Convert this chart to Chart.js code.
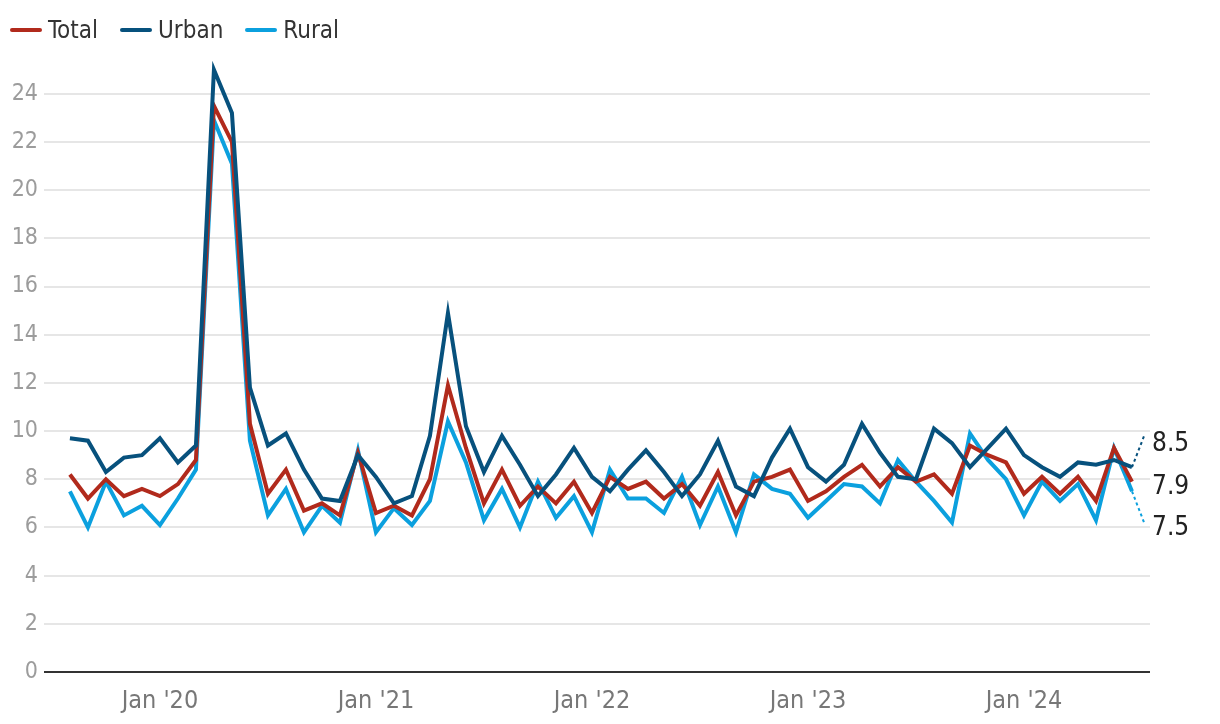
<!DOCTYPE html>
<html>
<head>
<meta charset="utf-8">
<script src="https://cdn.jsdelivr.net/npm/chart.js@4/dist/chart.umd.min.js"></script>
<style>
  html, body { margin: 0; padding: 0; background: #fff; }
  #wrap { position: relative; width: 1220px; height: 724px; }
  #legend {
    position: absolute; left: 10px; top: 14px; height: 32px;
    display: flex; align-items: center;
    font: 24px 'DejaVu Sans Condensed', 'Liberation Sans Narrow', sans-serif;
    color: #333;
  }
  #legend .item { display: flex; align-items: center; margin-right: 22px; }
  #legend .swatch { width: 32px; height: 4px; border-radius: 2px; margin-right: 6px; }
</style>
</head>
<body>
<div id="wrap">
  <canvas id="chart" width="1220" height="724"></canvas>
  <div id="legend"></div>
</div>
<script>
// monthly values, Aug 2019 .. Jul 2024
const total = [
  8.2, 7.2, 8.0, 7.3, 7.6, 7.3, 7.8, 8.8, 23.5, 22.0,
  10.3, 7.4, 8.4, 6.7, 7.0, 6.5, 9.1, 6.6, 6.9, 6.5,
  8.0, 11.9, 9.3, 7.0, 8.4, 6.9, 7.7, 7.0, 7.9, 6.6,
  8.1, 7.6, 7.9, 7.2, 7.8, 6.9, 8.3, 6.5, 7.9, 8.1,
  8.4, 7.1, 7.5, 8.1, 8.6, 7.7, 8.5, 7.9, 8.2, 7.4,
  9.4, 9.0, 8.7, 7.4, 8.1, 7.4, 8.1, 7.1, 9.3, 7.9,
];
const urban = [
  9.7, 9.6, 8.3, 8.9, 9.0, 9.7, 8.7, 9.4, 25.0, 23.2,
  11.8, 9.4, 9.9, 8.4, 7.2, 7.1, 9.0, 8.1, 7.0, 7.3,
  9.8, 14.9, 10.2, 8.3, 9.8, 8.6, 7.3, 8.2, 9.3, 8.1,
  7.5, 8.4, 9.2, 8.3, 7.3, 8.2, 9.6, 7.7, 7.3, 8.9,
  10.1, 8.5, 7.9, 8.6, 10.3, 9.1, 8.1, 8.0, 10.1, 9.5,
  8.5, 9.3, 10.1, 9.0, 8.5, 8.1, 8.7, 8.6, 8.8, 8.5,
];
const rural = [
  7.5, 6.0, 7.9, 6.5, 6.9, 6.1, 7.2, 8.4, 22.9, 21.1,
  9.6, 6.5, 7.6, 5.8, 6.9, 6.2, 9.2, 5.8, 6.8, 6.1,
  7.1, 10.4, 8.7, 6.3, 7.6, 6.0, 7.9, 6.4, 7.3, 5.8,
  8.4, 7.2, 7.2, 6.6, 8.1, 6.1, 7.7, 5.8, 8.2, 7.6,
  7.4, 6.4, 7.1, 7.8, 7.7, 7.0, 8.8, 7.9, 7.1, 6.2,
  9.9, 8.8, 8.0, 6.5, 7.9, 7.1, 7.8, 6.3, 9.3, 7.5,
];
const tickMonths = [5, 17, 29, 41, 53];
const tickLabels = ["Jan '20", "Jan '21", "Jan '22", "Jan '23", "Jan '24"];
const endLabels = ["7.9", "8.5", "7.5"];

const FONT = "'DejaVu Sans Condensed', 'Liberation Sans Narrow', 'DejaVu Sans', sans-serif";
const RED = "#b12a1c";
const DARK = "#07517d";
const LIGHT = "#0ba0de";

// label nudges (px) and dotted leader ends, per dataset
const labelShift = [6, -23, 37];
const leaderShift = [0, -31, 31];

const endLabelPlugin = {
  id: "endLabels",
  afterDatasetsDraw: (chart) => {
    const ctx = chart.ctx;
    ctx.save();
    chart.data.datasets.forEach((ds, i) => {
      const meta = chart.getDatasetMeta(i);
      const pt = meta.data[meta.data.length - 1];
      if (leaderShift[i] !== 0) {
        ctx.beginPath();
        ctx.setLineDash([3, 3]);
        ctx.lineWidth = 2;
        ctx.strokeStyle = ds.borderColor;
        ctx.moveTo(pt.x, pt.y);
        ctx.lineTo(pt.x + 12, pt.y + leaderShift[i]);
        ctx.stroke();
      }
      ctx.setLineDash([]);
      ctx.fillStyle = "#222";
      ctx.font = "26px " + FONT;
      ctx.textAlign = "left";
      ctx.textBaseline = "middle";
      ctx.fillText(endLabels[i], pt.x + 20, pt.y + labelShift[i]);
    });
    ctx.restore();
  },
};

const series = (label, data, color, order) => ({
  label,
  data,
  borderColor: color,
  backgroundColor: color,
  borderWidth: 4,
  pointRadius: 0,
  tension: 0,
  order,
});

const chart = new Chart(document.getElementById("chart"), {
  type: "line",
  data: {
    labels: total.map((_, i) => i),
    datasets: [
      series("Total", total, RED, 1),
      series("Urban", urban, DARK, 0),
      series("Rural", rural, LIGHT, 2),
    ],
  },
  plugins: [endLabelPlugin],
  options: {
    responsive: false,
    animation: false,
    layout: { padding: { top: 48, right: 70, left: 0, bottom: 0 } },
    plugins: {
      tooltip: { enabled: false },
      legend: { display: false },
    },
    scales: {
      x: {
        type: "linear",
        min: -1.44,
        max: 60,
        grid: { display: false },
        border: { display: false },
        afterBuildTicks: (scale) => {
          scale.ticks = tickMonths.map((v) => ({ value: v }));
        },
        afterFit: (scale) => {
          scale.height = 52;
        },
        ticks: {
          autoSkip: false,
          maxRotation: 0,
          padding: 6,
          color: "#777",
          font: { family: FONT, size: 25 },
          callback: (v) => tickLabels[tickMonths.indexOf(v)],
        },
      },
      y: {
        min: 0,
        max: 25.9,
        border: { display: false },
        grid: {
          drawTicks: false,
          lineWidth: 2,
          color: (c) => (c.tick.value === 0 ? "#333" : "#e6e6e6"),
        },
        afterFit: (scale) => {
          scale.width = 44;
        },
        ticks: {
          stepSize: 2,
          includeBounds: false,
          padding: 6,
          color: "#9c9c9c",
          font: { family: FONT, size: 23 },
        },
      },
    },
  },
});

// html legend, same order as the datasets
const legendEl = document.getElementById("legend");
chart.data.datasets.forEach((ds) => {
  const item = document.createElement("span");
  item.className = "item";
  const swatch = document.createElement("span");
  swatch.className = "swatch";
  swatch.style.background = ds.borderColor;
  item.appendChild(swatch);
  item.appendChild(document.createTextNode(ds.label));
  legendEl.appendChild(item);
});
</script>
</body>
</html>
